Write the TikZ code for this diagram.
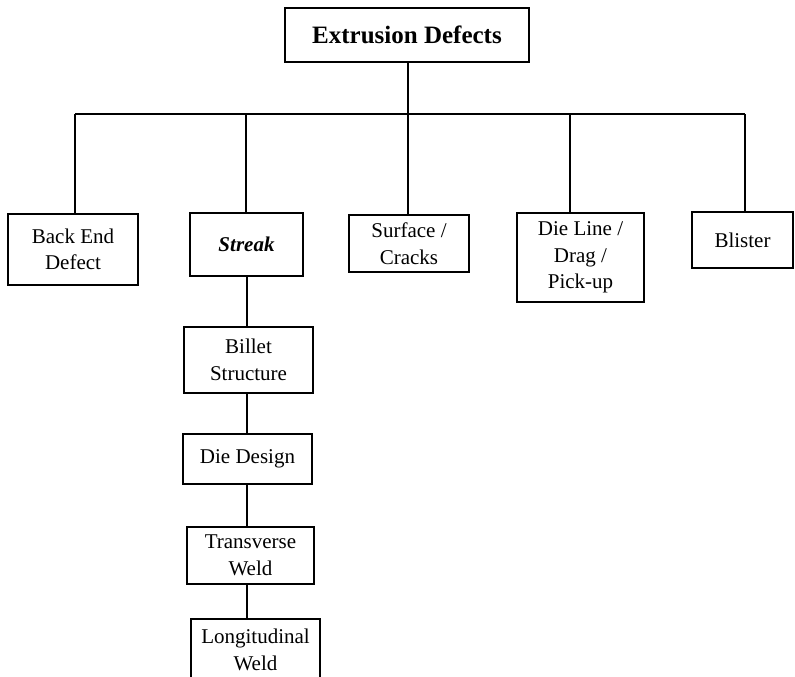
\documentclass[tikz,border=0pt]{standalone}
\usepackage{fontspec}
\setmainfont{Liberation Serif}
\begin{document}
\begin{tikzpicture}[x=1pt,y=-1pt,
  box/.style={draw, line width=1.8pt, inner sep=0pt, align=center,
    font=\fontsize{21}{26.5}\selectfont},
  link/.style={line width=1.6pt}]
\clip (0,0) rectangle (795,677);

% root
\node[box, minimum width=244pt, minimum height=54pt,
  font=\fontsize{25}{29}\selectfont\bfseries] (top) at (407,35) {Extrusion Defects};

% first level
\node[box, minimum width=130pt, minimum height=71pt] (back) at (73,249.5) {Back End\\Defect};
\node[box, minimum width=113pt, minimum height=63pt,
  font=\fontsize{21}{26.5}\selectfont\bfseries\itshape] (streak) at (246.5,244.5) {Streak};
\node[box, minimum width=120pt, minimum height=57pt] (surface) at (409,243.5) {Surface /\\Cracks};
\node[box, minimum width=127pt, minimum height=89pt] (dieline) at (580.5,257.5) {Die Line /\\Drag /\\Pick-up};
\node[box, minimum width=101pt, minimum height=56pt] (blister) at (742.5,240) {Blister};

% streak causes
\node[box, minimum width=129pt, minimum height=66pt] (billet) at (248.5,360) {Billet\\Structure};
\node[box, minimum width=129pt, minimum height=50pt] (diedesign) at (247.5,459) {Die Design};
\node[box, minimum width=127pt, minimum height=57pt] (transverse) at (250.5,555.5) {Transverse\\Weld};
\node[box, minimum width=129pt, minimum height=62pt] (longitudinal) at (255.5,650) {Longitudinal\\Weld};

% bus junctions
\coordinate (j1) at (75,114);
\coordinate (j2) at (246,114);
\coordinate (j3) at (408,114);
\coordinate (j4) at (570,114);
\coordinate (j5) at (745,114);
\coordinate (spine) at (247,0);

\draw[link] (j3 |- top.south) -- (j3);
\draw[link] (j1) -- (j5);
\draw[link] (j1) -- (j1 |- back.north);
\draw[link] (j2) -- (j2 |- streak.north);
\draw[link] (j3) -- (j3 |- surface.north);
\draw[link] (j4) -- (j4 |- dieline.north);
\draw[link] (j5) -- (j5 |- blister.north);

% streak chain
\draw[link] (spine |- streak.south) -- (spine |- billet.north);
\draw[link] (spine |- billet.south) -- (spine |- diedesign.north);
\draw[link] (spine |- diedesign.south) -- (spine |- transverse.north);
\draw[link] (spine |- transverse.south) -- (spine |- longitudinal.north);
\end{tikzpicture}
\end{document}
